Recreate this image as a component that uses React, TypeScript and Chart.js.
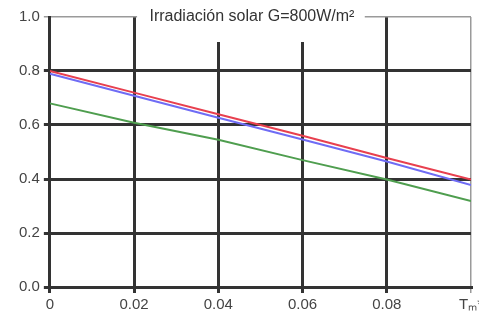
import React, { useEffect, useRef } from "react";
import { Chart, registerables } from "chart.js";

Chart.register(...registerables);

const xValues = [0, 0.02, 0.04, 0.06, 0.08, 0.1];
const redSeries = [0.8, 0.72, 0.64, 0.56, 0.478, 0.398];
const blueSeries = [0.79, 0.708, 0.627, 0.546, 0.465, 0.378];
const greenSeries = [0.68, 0.608, 0.545, 0.47, 0.398, 0.318];
const xTickLabels = ["0", "0.02", "0.04", "0.06", "0.08", "Tₘ*"];
const yTickLabels = ["0.0", "0.2", "0.4", "0.6", "0.8", "1.0"];
const titleText = "Irradiación solar G=800W/m²";

const FONT = "'Liberation Sans', Arial, sans-serif";

const titlePlugin = {
  id: "boxTitle",
  afterDraw(chart: any) {
    const { ctx, scales, chartArea } = chart;
    const xs = scales.x;
    const left = xs.getPixelForValue(0.02) + 3;
    const right = xs.getPixelForValue(0.08) - 22;
    ctx.save();
    ctx.fillStyle = "#ffffff";
    ctx.fillRect(left, 0, right - left, chartArea.top + 25);
    ctx.fillStyle = "#333333";
    ctx.font = `16px ${FONT}`;
    ctx.textAlign = "center";
    ctx.textBaseline = "middle";
    ctx.fillText(titleText, (left + right) / 2 + 1, chartArea.top);
    ctx.restore();
  },
};

function toPts(vals: number[]) {
  return xValues.map((x, i) => ({ x, y: vals[i] }));
}

export default function App() {
  const ref = useRef<HTMLCanvasElement | null>(null);
  useEffect(() => {
    if (!ref.current) return;
    const edge = (v: number, max: number) => Math.abs(v - max) < 1e-9;
    const chart = new Chart(ref.current, {
      type: "line",
      data: {
        datasets: [
          { data: toPts(greenSeries), borderColor: "#4f9e4f", borderWidth: 2, pointRadius: 0, tension: 0 },
          { data: toPts(blueSeries), borderColor: "#6f6cf5", borderWidth: 2, pointRadius: 0, tension: 0 },
          { data: toPts(redSeries), borderColor: "#e8404f", borderWidth: 2, pointRadius: 0, tension: 0 },
        ],
      },
      options: {
        animation: false,
        responsive: false,
        maintainAspectRatio: false,
        layout: { padding: { top: 17, left: 15, right: 8, bottom: 9 } },
        plugins: { legend: { display: false }, tooltip: { enabled: false }, title: { display: false } },
        scales: {
          x: {
            type: "linear",
            min: 0,
            max: 0.1,
            afterBuildTicks: (axis: any) => {
              axis.ticks = xValues.map((v) => ({ value: v }));
            },
            afterFit: (axis: any) => {
              axis.paddingRight = 0;
            },
            border: { display: true, color: "#333333", width: 3 },
            grid: {
              color: (c: any) => (edge(c.tick?.value ?? 0, 0.1) ? "#9a9a9a" : "#333333"),
              lineWidth: (c: any) => (edge(c.tick?.value ?? 0, 0.1) ? 1.5 : 3),
              tickLength: 6,
              drawTicks: true,
            },
            ticks: {
              color: "#444444",
              font: { family: FONT, size: 15 },
              padding: 3,
              maxRotation: 0,
              autoSkip: false,
              callback: (_v: any, i: number) => xTickLabels[i],
            },
          },
          y: {
            type: "linear",
            min: 0,
            max: 1,
            afterBuildTicks: (axis: any) => {
              axis.ticks = yTickLabels.map((_, i) => ({ value: i * 0.2 }));
            },
            border: { display: true, color: "#333333", width: 3 },
            grid: {
              color: (c: any) => (edge(c.tick?.value ?? 0, 1) ? "#9a9a9a" : "#333333"),
              lineWidth: (c: any) => (edge(c.tick?.value ?? 0, 1) ? 1.5 : 3),
              tickLength: 6,
            },
            ticks: {
              color: "#444444",
              font: { family: FONT, size: 15 },
              padding: 4,
              autoSkip: false,
              callback: (_v: any, i: number) => yTickLabels[i],
            },
          },
        },
      },
      plugins: [titlePlugin],
    } as any);
    return () => chart.destroy();
  }, []);
  return (
    <div style={{ position: "fixed", left: 0, top: 0, width: 479, height: 326, background: "#fff" }}>
      <canvas ref={ref} width={479} height={326} style={{ width: 479, height: 326 }} />
    </div>
  );
}
